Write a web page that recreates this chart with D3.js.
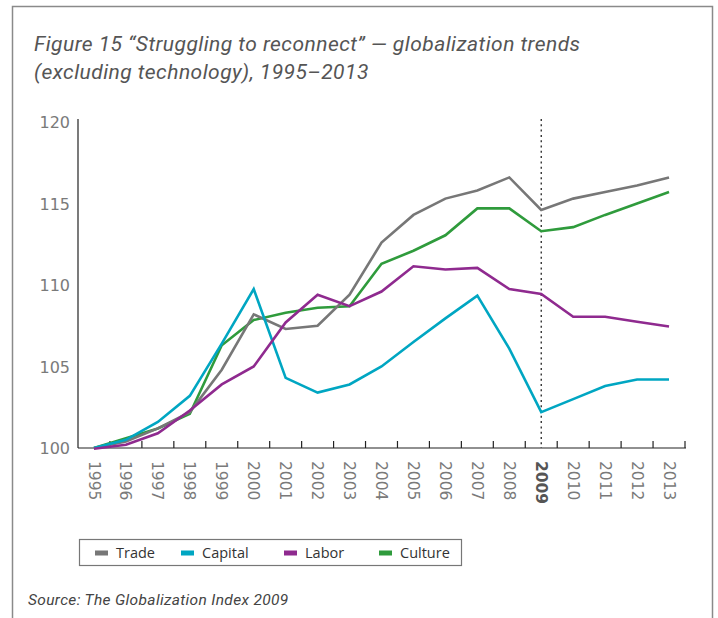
<!DOCTYPE html>
<html>
<head>
<meta charset="utf-8">
<script src="https://cdn.jsdelivr.net/npm/d3@7"></script>
<style>
  body{margin:0;background:#fff;}
  svg{display:block;}
</style>
</head>
<body>
<div id="chart"></div>
<script>
const years = ["1995","1996","1997","1998","1999","2000","2001","2002","2003","2004","2005","2006","2007","2008","2009","2010","2011","2012","2013"]
const trade   = [100,100.4,101.2,102.2,104.8,108.2,107.3,107.5,109.4,112.6,114.3,115.3,115.8,116.6,114.6,115.3,115.7,116.1,116.6]
const capital = [100,100.5,101.6,103.2,106.4,109.75,104.3,103.4,103.9,105.0,106.5,107.95,109.35,106.1,102.2,103.0,103.8,104.2,104.2]
const labor   = [99.95,100.2,100.9,102.3,103.9,105.0,107.7,109.4,108.7,109.6,111.15,110.95,111.05,109.75,109.45,108.05,108.05,107.75,107.45]
const culture = [100,100.6,101.2,102.1,106.3,107.85,108.3,108.6,108.7,111.3,112.1,113.05,114.7,114.7,113.3,113.55,114.3,115.0,115.7]
const yTicks = [100,105,110,115,120]
const seriesNames = ["Trade","Capital","Labor","Culture"]
const colors = ["#777777","#00a6c2","#8f2a8f","#2f9b3c"]
const markYear = "2009"

function render(){
  let width = 718, height = 618,
      left = 78, right = 685, top = 122, bottom = 448

  const svg = d3.select("#chart").append("svg")
                .attr("width",width).attr("height",height)

  // frame (open at the bottom)
  svg.append("path")
     .attr("d",`M12.5,${height} V6.5 H712.5 V${height}`)
     .attr("fill","none").attr("stroke","#8a8a8a").attr("stroke-width",1.5)

  svg.append("text").attr("x",34).attr("y",51)
     .text("Figure 15 \u201cStruggling to reconnect\u201d \u2014 globalization trends")
     .attr("class","title")
  svg.append("text").attr("x",34).attr("y",79)
     .text("(excluding technology), 1995\u20132013")
     .attr("class","title")
  svg.selectAll(".title")
     .attr("font-family","Roboto, 'Open Sans', sans-serif")
     .attr("font-style","italic").attr("font-size",21).attr("letter-spacing",0.45).attr("fill","#555")

  const x = d3.scaleBand().domain(years).range([left,right]).paddingInner(0).paddingOuter(0)
  const xc = d => x(d) + x.bandwidth()/2
  const y = d3.scaleLinear().domain([100,120]).range([bottom,top])

  // y axis
  const yAxis = d3.axisLeft(y).tickValues(yTicks).tickSize(0).tickPadding(8)
  const yGroup = svg.append("g").attr("transform",`translate(${left},0)`).call(yAxis)
  yGroup.select(".domain").attr("stroke","#222").attr("stroke-width",1.2)
        .attr("d",`M0,${bottom}V${top-3}`)
  yGroup.selectAll("text").attr("font-family","'DejaVu Sans', sans-serif")
        .attr("font-size",16).attr("fill","#7a7a7a").attr("dy","0.36em")

  // x axis: ticks sit between years, pointing up
  const xAxis = d3.axisBottom(x).tickSize(0).tickFormat("")
  const xGroup = svg.append("g").attr("transform",`translate(0,${bottom})`).call(xAxis)
  xGroup.select(".domain").attr("stroke","#222").attr("stroke-width",1.2)
        .attr("d",`M${left},0H${right+1}`)
  xGroup.selectAll(".tick").remove()
  const bounds = years.slice(1).map(d=>x(d)).concat([right])
  svg.append("g").selectAll("line").data(bounds).join("line")
     .attr("x1",d=>d).attr("x2",d=>d).attr("y1",bottom).attr("y2",bottom-7)
     .attr("stroke","#222").attr("stroke-width",1.2)

  svg.append("g").selectAll("text").data(years).join("text")
     .attr("transform",d=>`translate(${xc(d)},${bottom+13}) rotate(90)`)
     .attr("dy","0.35em")
     .attr("font-family","'DejaVu Sans', sans-serif").attr("font-size",15.5)
     .attr("fill",d=>d===markYear?"#555":"#7a7a7a")
     .attr("font-weight",d=>d===markYear?"bold":"normal")
     .text(d=>d)

  // dotted marker line
  svg.append("line")
     .attr("x1",xc(markYear)).attr("x2",xc(markYear))
     .attr("y1",top-3).attr("y2",bottom)
     .attr("stroke","#222").attr("stroke-width",1.3).attr("stroke-dasharray","2,3.3")

  const allSeries = [trade,capital,labor,culture]
  const line = d3.line().x((d,i)=>xc(years[i])).y(d=>y(d))
  // draw order so overlaps look like the original
  const order = [3,0,1,2]
  order.forEach(k=>{
    svg.append("path").datum(allSeries[k])
       .attr("d",line).attr("fill","none")
       .attr("stroke",colors[k]).attr("stroke-width",2.6)
       .attr("stroke-linejoin","miter")
  })

  // legend
  const lg = svg.append("g")
  lg.append("rect").attr("x",79.5).attr("y",539.5).attr("width",382).attr("height",26)
    .attr("fill","none").attr("stroke","#777").attr("stroke-width",1.2)
  const legX = [95,181,284,379]
  seriesNames.forEach((n,i)=>{
    lg.append("rect").attr("x",legX[i]).attr("y",550.5).attr("width",13).attr("height",5)
      .attr("fill",colors[i])
    lg.append("text").attr("x",legX[i]+21).attr("y",553).attr("dy","0.36em")
      .attr("font-family","'Open Sans', sans-serif").attr("font-size",14.5).attr("fill","#333")
      .text(n)
  })

  svg.append("text").attr("x",28).attr("y",605)
     .attr("font-family","Roboto, 'Open Sans', sans-serif").attr("font-style","italic")
     .attr("font-size",15.5).attr("letter-spacing",0.35).attr("fill","#444")
     .text("Source: The Globalization Index 2009")
}

render()
</script>
</body>
</html>
